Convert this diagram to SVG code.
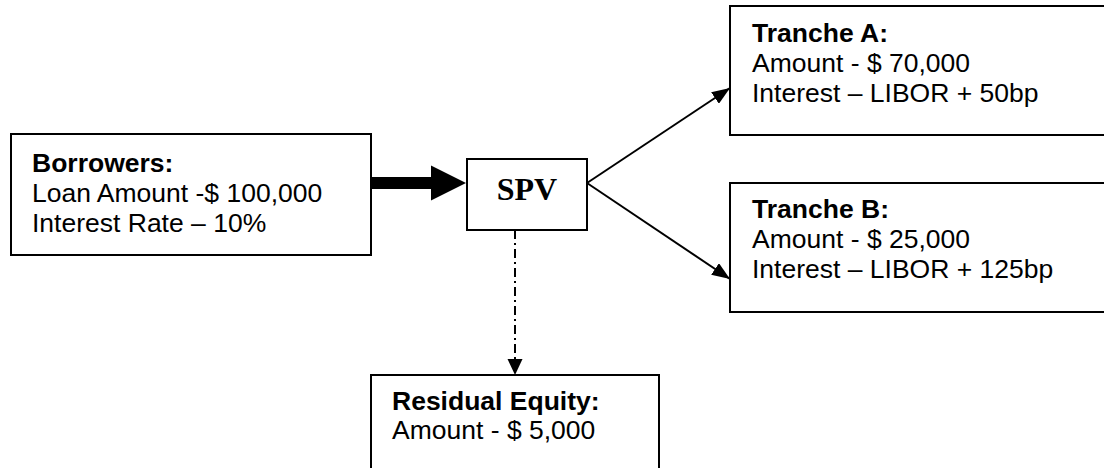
<svg xmlns="http://www.w3.org/2000/svg" width="1104" height="468" viewBox="0 0 1104 468">
<style>
.box{fill:#fff;stroke:#000;stroke-width:2}
.t{font-family:"Liberation Sans",Arial,sans-serif;font-size:26.5px;fill:#000}
.b{font-weight:bold}
.spv{font-family:"Liberation Serif","Times New Roman",serif;font-size:32px;font-weight:bold;text-anchor:middle}
.ln{stroke:#000;stroke-width:2;fill:none}
</style>
<defs>
<marker id="ah" markerWidth="18" markerHeight="14" refX="18" refY="7" orient="auto" markerUnits="userSpaceOnUse">
<path d="M0,0 L18,7 L0,14 Z" fill="#000"/>
</marker>
</defs>
<g id="borrowers">
<rect class="box" x="11" y="134" width="360" height="121"/>
<text class="t b" x="32" y="172">Borrowers:</text>
<text class="t" x="32" y="202">Loan Amount -$ 100,000</text>
<text class="t" x="32" y="232">Interest Rate – 10%</text>
</g>
<g id="spv">
<rect class="box" x="467" y="159" width="120" height="71"/>
<text class="spv" x="527" y="200">SPV</text>
</g>
<g id="trancheA">
<rect class="box" x="730" y="6" width="380" height="129"/>
<text class="t b" x="752" y="42">Tranche A:</text>
<text class="t" x="752" y="72">Amount - $ 70,000</text>
<text class="t" x="752" y="102">Interest – LIBOR + 50bp</text>
</g>
<g id="trancheB">
<rect class="box" x="730" y="183" width="380" height="129"/>
<text class="t b" x="752" y="218">Tranche B:</text>
<text class="t" x="752" y="248">Amount - $ 25,000</text>
<text class="t" x="752" y="278">Interest – LIBOR + 125bp</text>
</g>
<g id="residual">
<rect class="box" x="371" y="375" width="288" height="100"/>
<text class="t b" x="392" y="410">Residual Equity:</text>
<text class="t" x="392" y="439">Amount - $ 5,000</text>
</g>
<g id="connectors">
<path d="M371,177 H431 V165.5 L466,183 L431,200.5 V189 H371 Z" fill="#000"/>
<line class="ln" x1="587" y1="183" x2="730" y2="88" marker-end="url(#ah)"/>
<line class="ln" x1="587" y1="183" x2="730" y2="279" marker-end="url(#ah)"/>
<line class="ln" x1="515" y1="230" x2="515" y2="360" stroke-dasharray="9 4 2 4"/>
<path d="M507.5,359 L522.5,359 L515,375 Z" fill="#000"/>
</g>
</svg>
